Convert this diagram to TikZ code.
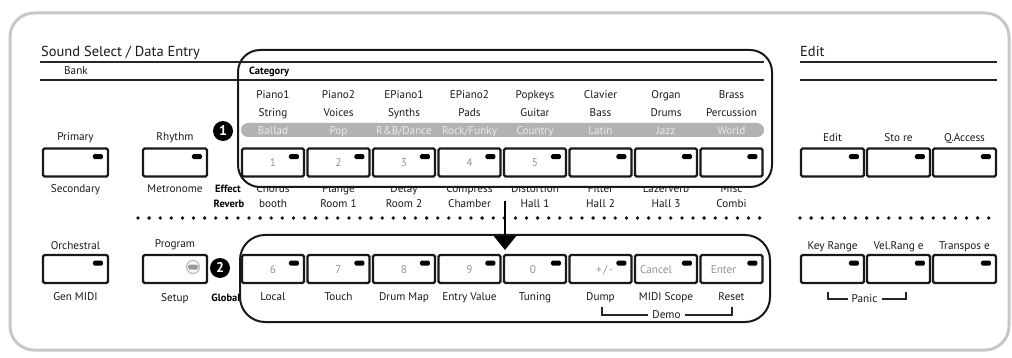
\documentclass[tikz,border=0pt]{standalone}
\usepackage{fontspec}
\setmainfont{PT Sans}
\usetikzlibrary{arrows.meta,calc}
\newcommand\kbtn[3]{%
  \node[btn,minimum width=#3] (#1) at (#2) {};
  \node[led,anchor=north east] (#1-led) at ($(#1.north east)+(-6,6.5)$) {};}
\begin{document}
\begin{tikzpicture}[x=1pt,y=-1pt,
  lbl/.style={font=\fontsize{11.2}{12}\selectfont, text=black!90, inner sep=0pt, text height=7.5pt, text depth=0pt},
  bld/.style={font=\fontsize{10.5}{11}\bfseries\selectfont, text=black, inner sep=0pt, text height=7.5pt, text depth=0pt},
  pilltxt/.style={lbl, text=black!8},
  numtxt/.style={lbl, text=black!42},
  btn/.style={draw=black!90, line width=2.2pt, rounded corners=1.5pt, fill=white, minimum height=28pt, inner sep=0pt},
  led/.style={fill=black, rounded corners=1.5pt, minimum width=10pt, minimum height=5pt, inner sep=0pt},
  frame/.style={draw=black!90, line width=2pt, rounded corners=22pt, inner sep=0pt},
  rule/.style={draw=black!85, line width=1.8pt},
  dots/.style={draw=black!90, line width=3.8pt, line cap=round, dash pattern=on 0pt off 11.1pt},
  bracket/.style={draw=black!85, line width=1.5pt},
  badge/.style={circle, fill=black, text=white, minimum size=20pt, inner sep=0pt, font=\fontsize{14}{14}\bfseries\selectfont},
  head/.style={font=\fontsize{14.5}{16}\selectfont, text=black!90, inner sep=0pt, anchor=base west},
  arr/.style={draw=black, line width=2.5pt, -{Triangle[width=22pt,length=14pt]}},
]
\useasboundingbox (0,0) rectangle (1012,358);
% outer panel
\draw[draw=black!22, line width=3pt, rounded corners=24pt] (10,13) rectangle (1009,350);

% headings and rules
\node[head] (title) at (41,57) {Sound Select / Data Entry};
\node[head] (edithead) at (800,57) {Edit};
\draw[rule] (40,62) -- (764,62);
\draw[rule] (40,80) -- (764,80);
\draw[rule] (800,62) -- (997,62);
\draw[rule] (800,80) -- (997,80);
\node[lbl] (bank) at (76,71) {Bank};
\node[bld, anchor=west, font=\fontsize{10.5}{11}\bfseries\selectfont] (category) at (249,71) {Category};

% grey pill
\fill[black!30, rounded corners=7pt] (241,123) rectangle (764,137);

% row 1 columns
\foreach \i/\a/\b/\c/\d/\n in {
  1/Piano1/String/Ballad/booth/1,
  2/Piano2/Voices/Pop/Room 1/2,
  3/EPiano1/Synths/{R\&B/Dance}/Room 2/3,
  4/EPiano2/Pads/{Rock/Funky}/Chamber/4,
  5/Popkeys/Guitar/Country/Hall 1/5,
  6/Clavier/Bass/Latin/Hall 2/{},
  7/Organ/Drums/Jazz/Hall 3/{},
  8/Brass/Percussion/World/Combi/{}}{
  \pgfmathsetmacro\cx{273+65.5*(\i-1)}
  \node[lbl] (ta\i) at (\cx,95) {\a};
  \node[lbl] (tb\i) at (\cx,113) {\b};
  \node[pilltxt] (tc\i) at (\cx,131) {\c};
  \kbtn{k\i}{\cx,162.5}{62pt}
  \node[numtxt] (k\i-t) at (\cx,163) {\n};
  \node[lbl] (td\i) at (\cx,204) {\d};
}
\begin{scope}
  \clip (236,187) rectangle (776,197);
  \foreach \i/\a in {1/Chorus,2/Flange,3/Delay,4/Compress,5/Distortion,6/Filter,7/Lazerverb,8/Misc}{
    \pgfmathsetmacro\cx{273+65.5*(\i-1)}
    \node[lbl] (te\i) at (\cx,188.5) {\a};
  }
\end{scope}

% row 2 columns
\foreach \i/\n/\d/\o in {
  1/6/Local/0, 2/7/Touch/0, 3/8/Drum Map/0, 4/9/Entry Value/0, 5/0/Tuning/-2,
  6/{+\kern1.5pt/\kern1.5pt-}/Dump/4, 7/Cancel/MIDI Scope/-10, 8/Enter/Reset/-8}{
  \pgfmathsetmacro\cx{273+65.5*(\i-1)}
  \kbtn{m\i}{\cx,269}{62pt}
  \node[numtxt] (m\i-t) at (\cx+\o,270) {\n};
  \node[lbl] (mb\i) at (\cx,297) {\d};
}

% left buttons
\node[lbl] (l-primary) at (75.5,137) {Primary};
\kbtn{primary}{75.5,162.5}{65pt}
\node[lbl] (l-secondary) at (75.5,189) {Secondary};
\node[lbl] (l-rhythm) at (175,137) {Rhythm};
\kbtn{rhythm}{175,162.5}{64pt}
\node[lbl] (l-metronome) at (175,189) {Metronome};
\node[lbl] (l-orch) at (75.5,246) {Orchestral};
\kbtn{orch}{75.5,269}{65pt}
\node[lbl] (l-gm) at (75.5,297) {Gen MIDI};
\node[lbl] (l-prog) at (175,244) {Program};
\node[btn,minimum width=64pt] (prog) at (175,269) {};
\node[circle, draw=black!25, line width=1.3pt, minimum size=13pt, inner sep=0pt] (prog-ring) at (193,267) {};
\node[led, fill=black!40] (prog-led) at (prog-ring.center) {};
\node[lbl] (l-setup) at (175,298) {Setup};

% right buttons
\foreach \i/\x/\t/\b in {1/832.5/Edit/Key Range, 2/898.5/Sto re/Vel.Rang e, 3/964.5/Q.Access/Transpos e}{
  \node[lbl] (r\i-t) at (\x,138) {\t};
  \kbtn{r\i}{\x,162.5}{63pt}
  \node[lbl] (s\i-t) at (\x,246) {\b};
  \kbtn{s\i}{\x,269}{63pt}
}

% bold side labels and badges
\node[bld] (effect) at (228,189) {Effect};
\node[bld] (reverb) at (229,204) {Reverb};
\node[bld] (global) at (226,298) {Global};
\node[badge] (one) at (223,131) {1};
\node[badge] (two) at (220,268) {2};

% frames
\node[frame, minimum width=534pt, minimum height=137pt] (catbox) at (505,118.5) {};
\node[frame, minimum width=530pt, minimum height=87pt, rounded corners=25pt] (globbox) at (505,278.5) {};

% dotted separators
\draw[dots] (138,218) -- (770,218);
\draw[dots] (800,218) -- (996,218);

% arrow
\coordinate (arrS) at (505,201);
\coordinate (arrE) at (505,250);
\draw[arr] (arrS) -- (arrE);

% Demo bracket
\node[lbl, inner xsep=4pt] (demo) at (666.5,315) {Demo};
\coordinate (demoL) at (602,307);
\coordinate (demoR) at (732,307);
\draw[bracket] (demoL) |- (demo.west);
\draw[bracket] (demoR) |- (demo.east);

% Panic bracket
\node[lbl, inner xsep=4pt] (panic) at (864.5,299) {Panic};
\coordinate (panicL) at (828,292);
\coordinate (panicR) at (906,292);
\draw[bracket] (panicL) |- (panic.west);
\draw[bracket] (panicR) |- (panic.east);
\end{tikzpicture}
\end{document}
